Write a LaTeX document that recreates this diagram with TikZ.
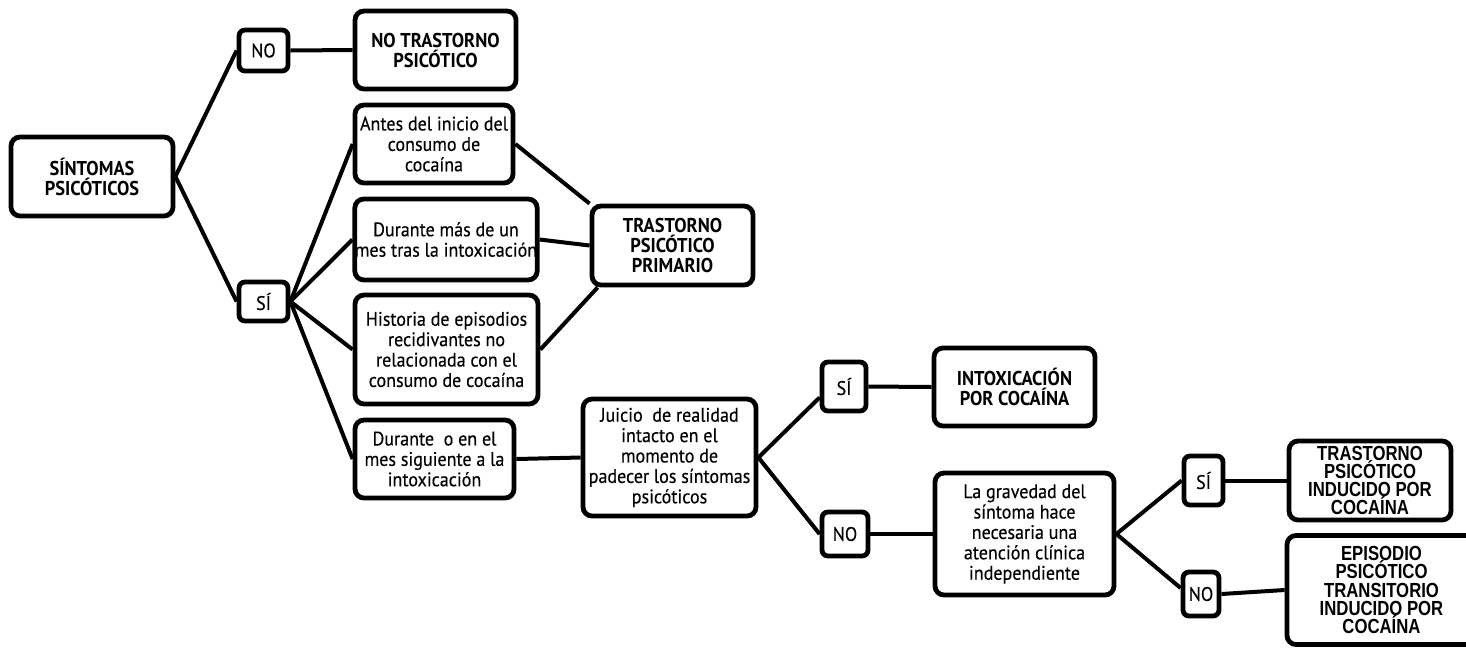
\documentclass[tikz,border=0pt]{standalone}
\usepackage{fontspec}
\setmainfont{PT Sans}[FakeStretch=0.92, UprightFeatures={FakeBold=0.3}]
\newfontfamily\arialcond[FakeStretch=0.82]{Liberation Sans}
\newcommand\tightlines{\lineskiplimit=-20pt\relax}
\begin{document}
\begin{tikzpicture}[x=0.5pt,y=-0.5pt,
  box/.style={draw, line width=2.4pt, rounded corners=4.5pt, align=center, inner sep=0pt, font=\fontsize{9.8}{10.2}\selectfont\tightlines},
  bbox/.style={box, font=\fontsize{10}{10}\selectfont\bfseries\tightlines},
  abox/.style={box, font=\fontsize{10.2}{9.1}\arialcond\bfseries\tightlines},
  yn/.style={draw, line width=2.4pt, rounded corners=3pt, inner sep=0pt, font=\fontsize{9.8}{10}\selectfont},
  link/.style={line width=2pt}]
\fill[white] (0,0) rectangle (1466,649);
\clip (0,0) rectangle (1466,649);
% nodes
\node[bbox, minimum width=81pt, minimum height=39.5pt] (sint) at (92,176.5) {SÍNTOMAS\\PSICÓTICOS};
\node[yn, minimum width=24.5pt, minimum height=20.5pt] (no1) at (263.5,50.5) {NO};
\node[bbox, minimum width=80.5pt, minimum height=39pt] (notr) at (435.5,50) {NO TRASTORNO\\PSICÓTICO};
\node[box, minimum width=79pt, minimum height=39pt] (antes) at (434,144) {Antes del inicio del\\consumo de\\cocaína};
\node[box, minimum width=91pt, minimum height=40.5pt] (durmas) at (446,239.5) {Durante más de un\\mes tras la intoxicación};
\node[yn, minimum width=24.5pt, minimum height=19.5pt] (si1) at (263.5,301.5) {SÍ};
\node[box, minimum width=91.5pt, minimum height=54.5pt] (hist) at (446.5,349.5) {Historia de episodios\\recidivantes no\\relacionada con el\\consumo de cocaína};
\node[box, minimum width=79.5pt, minimum height=39pt] (duro) at (434.5,459) {Durante\ \ o en el\\mes siguiente a la\\intoxicación};
\node[bbox, minimum width=80.5pt, minimum height=39.5pt] (prim) at (672.5,245.5) {TRASTORNO\\PSICÓTICO\\PRIMARIO};
\node[box, minimum width=86.5pt, minimum height=58.5pt] (juicio) at (669.5,457.5) {Juicio\ \ de realidad\\intacto en el\\momento de\\padecer los síntomas\\psicóticos};
\node[yn, minimum width=22pt, minimum height=24.5pt] (si2) at (844,386.5) {SÍ};
\node[bbox, minimum width=80.5pt, minimum height=39pt] (intox) at (1014.5,387) {INTOXICACIÓN\\POR COCAÍNA};
\node[yn, minimum width=23pt, minimum height=22pt] (no2) at (845,534) {NO};
\node[box, minimum width=89.5pt, minimum height=61pt] (grav) at (1024.5,534) {La gravedad del\\síntoma hace\\necesaria una\\atención clínica\\independiente};
\node[yn, minimum width=19.5pt, minimum height=24.5pt] (si3) at (1203.5,480.5) {SÍ};
\node[abox, minimum width=81pt, minimum height=39.5pt] (ti) at (1370,480.5) {TRASTORNO\\PSICÓTICO\\INDUCIDO POR\\COCAÍNA};
\node[yn, minimum width=18pt, minimum height=22pt] (no3) at (1201,594) {NO};
\node[abox, minimum width=94.5pt, minimum height=54.5pt] (epi) at (1381.5,590) {EPISODIO\\PSICÓTICO\\TRANSITORIO\\INDUCIDO POR\\COCAÍNA};
% connectors
\draw[link] (sint.east) -- (no1.west);
\draw[link] (sint.east) -- (si1.west);
\draw[link] (no1.east) -- (notr.west);
\draw[link] (si1.east) -- (antes.west);
\draw[link] (si1.east) -- (durmas.west);
\draw[link] (si1.east) -- (hist.west);
\draw[link] (si1.east) -- (duro.west);
\draw[link] (antes.east) -- (prim.north west);
\draw[link] (durmas.east) -- (prim.west);
\draw[link] (hist.east) -- ([xshift=4pt]prim.south west);
\draw[link] (duro.east) -- (juicio.west);
\draw[link] (juicio.east) -- ([yshift=-5.5pt]si2.west);
\draw[link] (juicio.east) -- (no2.west);
\draw[link] (si2.east) -- (intox.west);
\draw[link] (no2.east) -- (grav.west);
\draw[link] (grav.east) -- (si3.west);
\draw[link] (grav.east) -- ([yshift=3pt]no3.west);
\draw[link] (si3.east) -- (ti.west);
\draw[link] (no3.east) -- (epi.west);
\end{tikzpicture}
\end{document}
